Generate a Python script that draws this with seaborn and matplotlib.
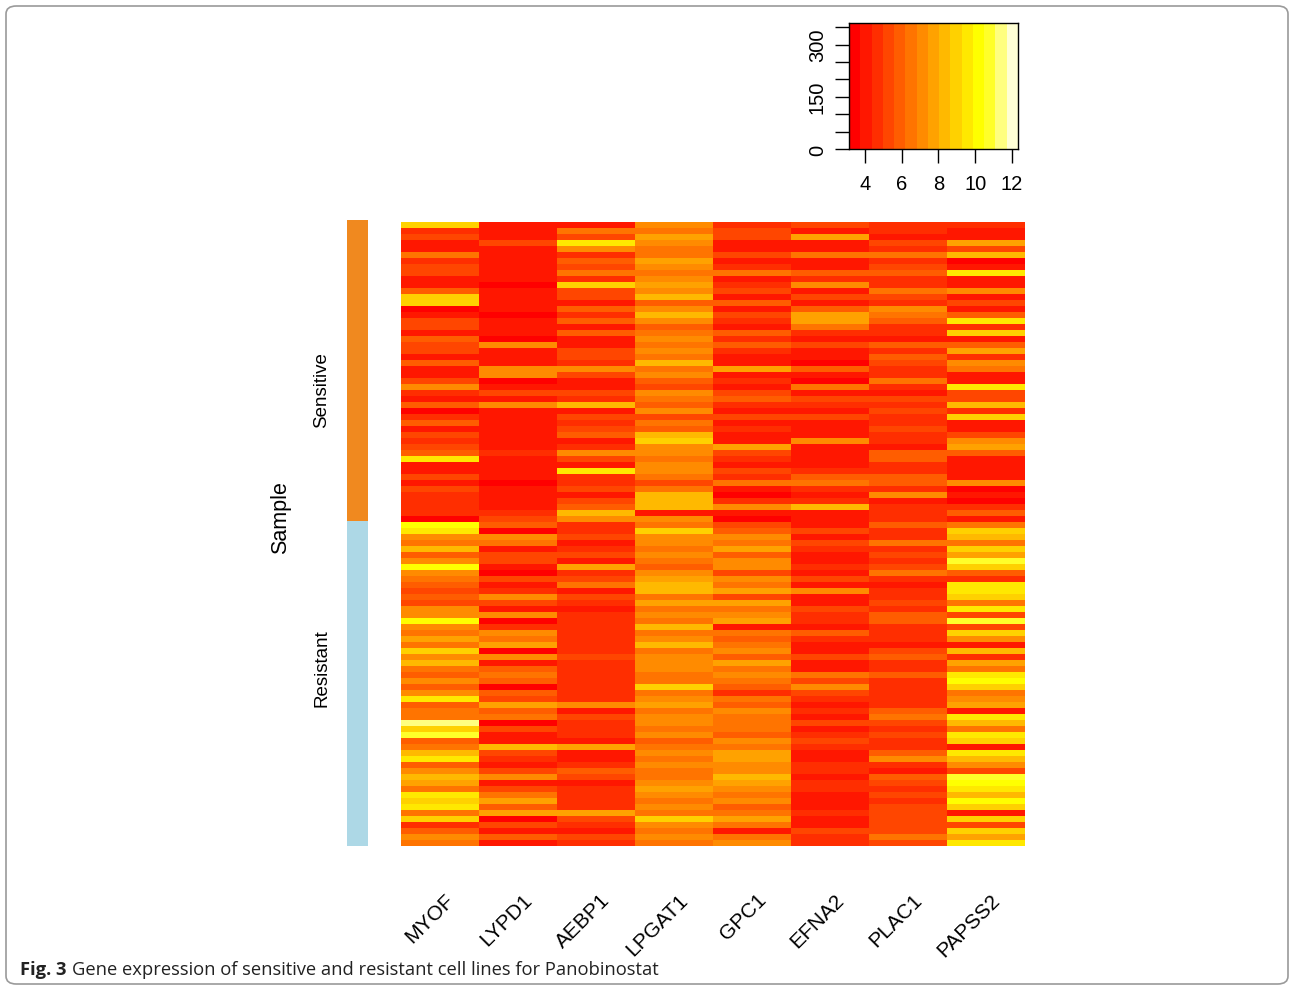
import numpy as np
import pandas as pd
import seaborn as sns
import matplotlib
matplotlib.use("Agg")
import matplotlib.pyplot as plt
from matplotlib.colors import ListedColormap
from matplotlib.patches import FancyBboxPatch

# genes (columns) and samples (rows)
genes = ["MYOF", "LYPD1", "AEBP1", "LPGAT1", "GPC1", "EFNA2", "PLAC1", "PAPSS2"]
n_sensitive = 50
n_resistant = 54

# expression per sample, read row by row off the picture as colour-key bin (hex 0..e)
myof = ("9231152331" "1499013314" "3314113621" "402413234a" "1131322220"
        "ba65846b65" "434366b657" "596854646a" "455d9c458a" "46875a9a59" "2465")
lypd1 = ("1113111111" "0111101110" "6111660131" "6111111121" "1110111123"
         "4065133103" "1263160265" "7061454043" "7450311832" "1361357470" "3141")
aebp1 = ("153a624352" "9331424141" "1332631132" "8132341263" "1a22313486"
         "2231231723" "5132122222" "2232222222" "6132221711" "2431222273" "2132")
lpgat1 = ("6576557656" "7684686456" "5658564365" "4635489665" "6653588816"
          "5966565467" "8857565856" "8566655956" "7566564565" "6556765659" "6565")
gpc1 = ("2331131251" "2314132142" "4211712134" "2131211732" "1325102610"
        "3465746636" "5737567154" "5647565425" "4655546577" "6687656457" "5156")
efna2 = ("3171151142" "6131477521" "3110410513" "2131116111" "1245212811"
         "1313211213" "1611322142" "1131153632" "1213123211" "2212211121" "1322")
plac1 = ("2213252342" "2532654221" "4243225213" "2322322144" "2244261222"
         "4225232352" "1223244222" "1342242222" "2453232246" "2143232333" "3353")
papss2 = ("21173801a1" "161314a291" "4726511a33" "8291136741" "1116010241"
          "598597c942" "aa95a3c396" "18275ab956" "71a85a91a8" "63cba8b919" "397a")

key_lo, key_hi = 3.13, 12.33
key_count_max = 362
n_bins = 15

# R heat.colors(15)
heat = [(1.0, k / 11, 0.0) for k in range(12)] + [(1.0, 1.0, 1 - s) for s in (5 / 6, 0.5, 1 / 6)]
cmap = ListedColormap(heat)
step = (key_hi - key_lo) / n_bins

def decode(codes):
    return [key_lo + (int(c, 16) + 0.5) * step for c in codes]

cols = [myof, lypd1, aebp1, lpgat1, gpc1, efna2, plac1, papss2]
df = pd.DataFrame({g: decode(c) for g, c in zip(genes, cols)})
groups = pd.DataFrame({"Sample": [0] * n_sensitive + [1] * n_resistant})

W, H = 1290, 987
fig = plt.figure(figsize=(W / 100, H / 100), dpi=100)

def box(x0, y0, x1, y1):
    return [x0 / W, 1 - y1 / H, (x1 - x0) / W, (y1 - y0) / H]

font = "Liberation Sans"

# main heatmap
ax = fig.add_axes(box(401, 223, 1025, 847))
sns.heatmap(df, ax=ax, cmap=cmap, vmin=key_lo, vmax=key_hi, cbar=False,
            xticklabels=False, yticklabels=False, linewidths=0)
ax.set_xlabel("")
ax.set_ylabel("")
nrow = len(df)
for i, g in enumerate(genes):
    ax.text(i + 0.5 + 0.14, nrow + 8.4, g, rotation=45, ha="right", va="center",
            rotation_mode="anchor", fontsize=15, family=font, clip_on=False)

# sample side bar
sax = fig.add_axes(box(347, 221, 368, 847))
sns.heatmap(groups, ax=sax, cmap=ListedColormap(["#F0891F", "#ADD8E6"]), vmin=0, vmax=1,
            cbar=False, xticklabels=False, yticklabels=False)
sax.set_xlabel("")
sax.set_ylabel("")
fig.text(322 / W, 1 - 390 / H, "Sensitive", rotation=90, ha="center", va="center",
         fontsize=13.5, family=font)
fig.text(322 / W, 1 - 668 / H, "Resistant", rotation=90, ha="center", va="center",
         fontsize=13.5, family=font)
fig.text(281 / W, 1 - 518 / H, "Sample", rotation=90, ha="center", va="center",
         fontsize=15.5, family=font)

# colour key
kax = fig.add_axes(box(849, 24, 1018, 150))
edges = np.linspace(key_lo, key_hi, n_bins + 1)
kax.pcolormesh(edges, [0, key_count_max], np.arange(n_bins)[None, :], cmap=cmap,
               vmin=-0.5, vmax=n_bins - 0.5)
kax.set_xlim(key_lo, key_hi)
kax.set_ylim(0, key_count_max)
kax.set_xticks([4, 6, 8, 10, 12])
kax.set_yticks(np.arange(0, 351, 50))
kax.set_yticklabels(["0", "", "", "150", "", "", "300", ""], rotation=90, va="center")
kax.tick_params(length=10, width=1, labelsize=14.5)
kax.tick_params(axis="x", pad=8)
kax.tick_params(axis="y", pad=6)
for lab in kax.get_xticklabels() + kax.get_yticklabels():
    lab.set_family(font)
for s in kax.spines.values():
    s.set_linewidth(1)

# caption
r = fig.canvas.get_renderer()
t = fig.text(20 / W, 1 - 970 / H, "Fig. 3", fontsize=13.2, weight="bold",
             family="Open Sans", va="center", color="#222222")
bb = t.get_window_extent(renderer=r)
fig.text((bb.x1 + 5) / W, 1 - 970 / H,
         "Gene expression of sensitive and resistant cell lines for Panobinostat",
         fontsize=13.2, family="Open Sans", va="center", color="#222222")

# frame round the figure panel
fig.patches.append(FancyBboxPatch((6 / W, 2 / H), 1282 / W, 978 / H,
                                  boxstyle="round,pad=0,rounding_size=0.008",
                                  transform=fig.transFigure, fill=False,
                                  edgecolor="#9a9a9a", linewidth=1.2))

fig.savefig("out.png", dpi=100)
